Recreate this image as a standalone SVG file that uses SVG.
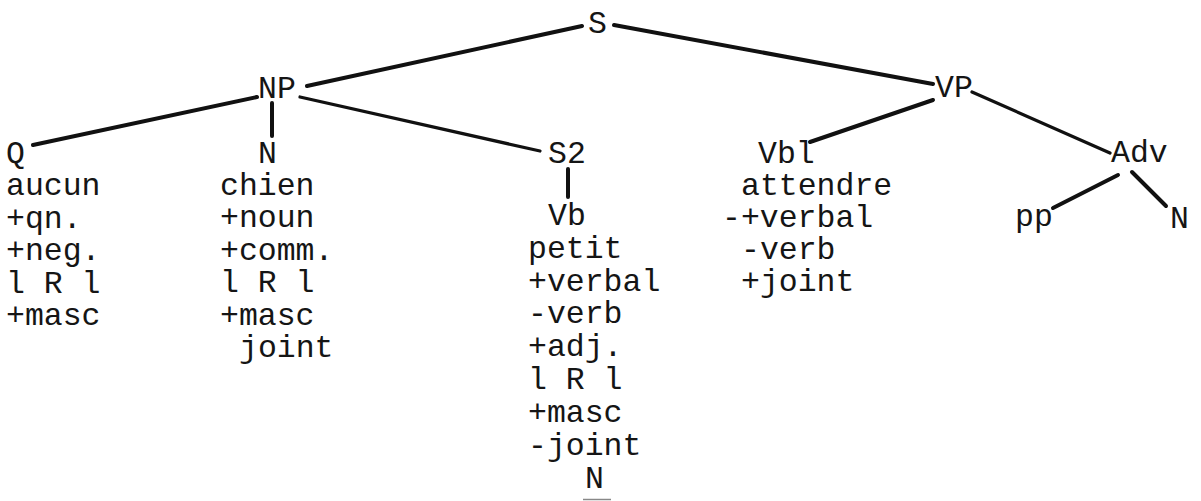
<svg xmlns="http://www.w3.org/2000/svg" width="1201" height="501" viewBox="0 0 1201 501">
<style>
text { font-family: "Liberation Mono", "Courier New", monospace; font-size: 31.5px; fill: #151515; }
.edge { stroke: #111; stroke-width: 4; stroke-linecap: round; fill: none; }
.thin { stroke-width: 3.2; }
</style>
<rect width="1201" height="501" fill="#fff"/>
<g id="connectors">
  <line class="edge" x1="582" y1="26" x2="307" y2="86"/>
  <line class="edge" x1="614" y1="25" x2="933" y2="84"/>
  <line class="edge" x1="257" y1="97" x2="33" y2="145"/>
  <line class="edge" x1="272" y1="103" x2="272" y2="136"/>
  <line class="edge thin" x1="300" y1="97" x2="540" y2="151"/>
  <line class="edge" x1="568" y1="169" x2="568" y2="197"/>
  <line class="edge" x1="933" y1="100" x2="810" y2="142"/>
  <line class="edge thin" x1="972" y1="92" x2="1110" y2="153"/>
  <line class="edge" x1="1118" y1="175" x2="1053" y2="208"/>
  <line class="edge" x1="1132" y1="172" x2="1166" y2="206"/>
</g>
<g id="node-S"><text x="588" y="33">S</text></g>
<g id="node-NP"><text x="258" y="98">NP</text></g>
<g id="node-VP"><text x="935" y="97">VP</text></g>
<g id="node-Q">
  <text x="6" y="163">Q</text>
  <text x="6" y="195">aucun</text>
  <text x="6" y="228">+qn.</text>
  <text x="6" y="260">+neg.</text>
  <text x="6" y="293">l R l</text>
  <text x="6" y="325">+masc</text>
</g>
<g id="node-N">
  <text x="258" y="163">N</text>
  <text x="220" y="195">chien</text>
  <text x="220" y="227">+noun</text>
  <text x="220" y="260">+comm.</text>
  <text x="220" y="292">l R l</text>
  <text x="220" y="325">+masc</text>
  <text x="239" y="357">joint</text>
</g>
<g id="node-S2"><text x="548" y="163">S2</text></g>
<g id="node-Vb">
  <text x="548" y="225">Vb</text>
  <text x="528" y="258">petit</text>
  <text x="528" y="291">+verbal</text>
  <text x="528" y="323">-verb</text>
  <text x="528" y="356">+adj.</text>
  <text x="528" y="389">l R l</text>
  <text x="528" y="422">+masc</text>
  <text x="528" y="455">-joint</text>
  <text x="585" y="488">N</text>
</g>
<g id="node-Vbl">
  <text x="758" y="163">Vbl</text>
  <text x="741" y="195">attendre</text>
  <text x="722" y="227">-+verbal</text>
  <text x="741" y="259">-verb</text>
  <text x="741" y="291">+joint</text>
</g>
<g id="node-Adv"><text x="1111" y="162">Adv</text></g>
<g id="node-pp"><text x="1015" y="226">pp</text></g>
<g id="node-N2"><text x="1170" y="228">N</text></g>
<line x1="583" y1="499.5" x2="611" y2="499.5" stroke="#888" stroke-width="1.5"/>
</svg>
